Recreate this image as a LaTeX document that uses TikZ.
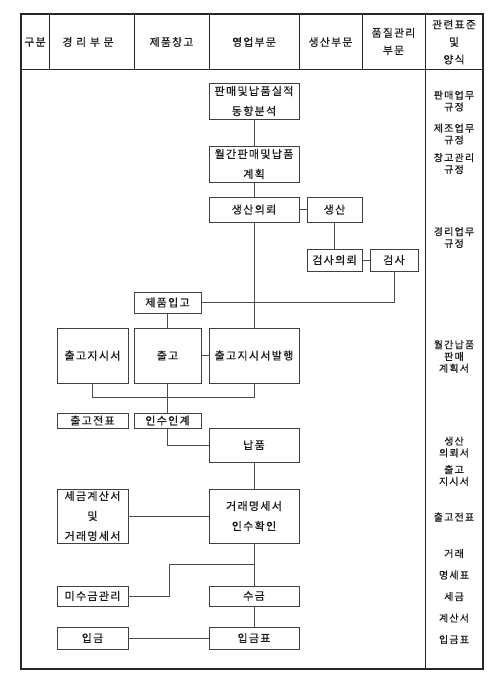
\documentclass[tikz,border=0pt]{standalone}
\usepackage{fontspec}
\setmainfont[LetterSpace=12,FakeBold=0.6]{Noto Sans CJK KR}
\newfontfamily\widefont[LetterSpace=35,FakeBold=0.6]{Noto Sans CJK KR}
\begin{document}
\begin{tikzpicture}[x=1pt,y=-1pt,
  box/.style={draw=black!75, line width=0.8pt, inner sep=0pt, align=center,
    font=\fontsize{11}{20}\selectfont, text=black!90},
  conn/.style={draw=black!70, line width=0.7pt},
  frame/.style={draw=black!85, line width=1.2pt},
  hdr/.style={font=\fontsize{10.8}{17.5}\selectfont, align=center, inner sep=0pt, text=black!90},
  std/.style={font=\fontsize{10}{11.8}\selectfont, align=center, inner sep=0pt, text=black!90}]
\useasboundingbox (0,0) rectangle (500,687);
% frame and header
\draw[frame] (21,14) rectangle (483,669);
\draw[frame, line width=0.9pt] (21,69) -- (483,69);
\foreach \xx in {49,134,209,299,362} \draw[frame, line width=0.9pt] (\xx,14) -- (\xx,69);
\draw[frame, line width=0.9pt] (425,14) -- (425,669);
\node[hdr] (h1) at (35,42) {구분};
\node[hdr, font=\widefont\fontsize{10.8}{17.5}\selectfont] (h2) at (88,42) {경리부문};
\node[hdr] (h3) at (171.5,42) {제품창고};
\node[hdr] (h4) at (254,42) {영업부문};
\node[hdr] (h5) at (330.5,42) {생산부문};
\node[hdr] (h6) at (393.5,41.5) {품질관리\\부문};
\node[hdr] (h7) at (454,42) {관련표준\\및\\양식};
% right column standards
\node[std] (s1) at (454,101) {판매업무\\규정};
\node[std] (s2) at (454,134) {제조업무\\규정};
\node[std] (s3) at (454,163.5) {창고관리\\규정};
\node[std] (s4) at (454,237.5) {경리업무\\규정};
\node[std] (s5) at (454,356.5) {월간납품\\판매\\계획서};
\node[std] (s6) at (454,447) {생산\\의뢰서};
\node[std] (s7) at (454,475.5) {출고\\지시서};
\node[std] (s8) at (454,517) {출고전표};
\node[std, font=\fontsize{10}{21.5}\selectfont] (s9) at (454,596.5) {거래\\명세표\\세금\\계산서\\입금표};
% flow nodes
\node[box, minimum width=90pt, minimum height=36pt] (n1) at (254,101) {판매및납품실적\\동향분석};
\node[box, minimum width=90pt, minimum height=36pt] (n2) at (254,164) {월간판매및납품\\계획};
\node[box, minimum width=90pt, minimum height=25pt] (n3) at (254,209.5) {생산의뢰};
\node[box, minimum width=55pt, minimum height=25pt] (n4) at (334.5,209.5) {생산};
\node[box, minimum width=55pt, minimum height=22pt] (n5) at (334.5,260) {검사의뢰};
\node[box, minimum width=48pt, minimum height=22pt] (n6) at (394,260) {검사};
\node[box, minimum width=67pt, minimum height=21pt] (n7) at (167.5,302.5) {제품입고};
\node[box, minimum width=71pt, minimum height=55pt] (n8) at (92.5,355.5) {출고지시서};
\node[box, minimum width=67pt, minimum height=55pt] (n9) at (167.5,355.5) {출고};
\node[box, minimum width=90pt, minimum height=55pt] (n10) at (254,355.5) {출고지시서발행};
\node[box, minimum width=71pt, minimum height=15pt] (n11) at (92.5,420.5) {출고전표};
\node[box, minimum width=67pt, minimum height=15pt] (n12) at (167.5,420.5) {인수인계};
\node[box, minimum width=90pt, minimum height=34pt] (n13) at (254,445) {납품};
\node[box, minimum width=90pt, minimum height=54pt] (n14) at (254,516) {거래명세서\\인수확인};
\node[box, minimum width=71pt, minimum height=54pt] (n15) at (92.5,516) {세금계산서\\및\\거래명세서};
\node[box, minimum width=71pt, minimum height=20pt] (n16) at (92.5,596) {미수금관리};
\node[box, minimum width=90pt, minimum height=20pt] (n17) at (254,596) {수금};
\node[box, minimum width=71pt, minimum height=22pt] (n18) at (92.5,638) {입금};
\node[box, minimum width=90pt, minimum height=22pt] (n19) at (254,638) {입금표};
% connectors
\draw[conn] (n1.south) -- (n2.north);
\draw[conn] (n2.south) -- (n3.north);
\draw[conn] (n3.south) -- (n10.north);
\draw[conn] (n3.east) -- (n4.west);
\draw[conn] (n4.south) -- (n5.north);
\draw[conn] (n5.east) -- (n6.west);
\draw[conn] (n6.south) |- (n7.east);
\draw[conn] (n7.south) -- (n9.north);
\draw[conn] (n9.east) -- (n10.west);
\coordinate (j1) at (92.5,397);
\draw[conn] (n8.south) -- (j1) -| (n10.south);
\draw[conn] (n9.south) -- (n12.north);
\draw[conn] (n12.south) |- (n13.west);
\draw[conn] (n13.south) -- (n14.north);
\draw[conn] (n15.east) -- (n14.west);
\draw[conn] (n14.south) -- (n17.north);
\coordinate (b1) at (254,564);
\coordinate (b2) at (169,564);
\draw[conn] (b1) -- (b2) |- (n16.east);
\draw[conn] (n17.south) -- (n19.north);
\draw[conn] (n18.east) -- (n19.west);
\end{tikzpicture}
\end{document}
